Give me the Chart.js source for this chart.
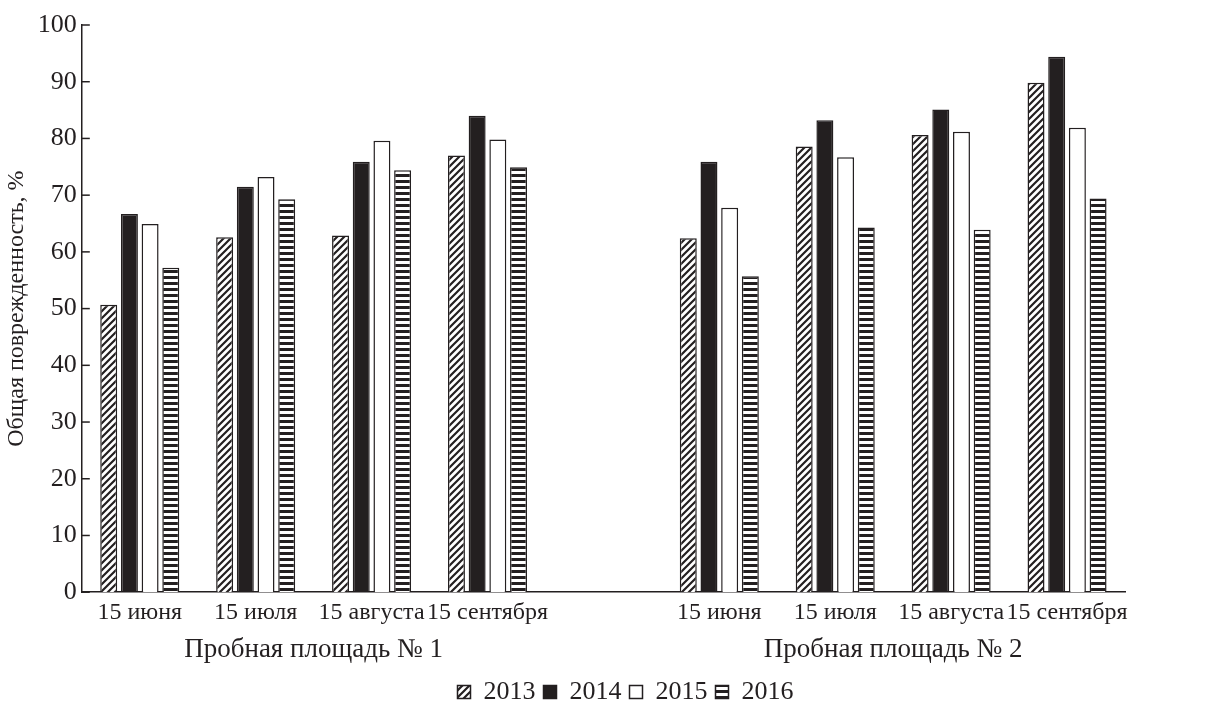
<!DOCTYPE html>
<html>
<head>
<meta charset="utf-8">
<script src="https://cdn.jsdelivr.net/npm/chart.js@4.4.0/dist/chart.umd.min.js"></script>
<style>
  body { margin: 0; background: #fff; }
  #wrap { width: 1206px; height: 701px; }
</style>
</head>
<body>
<div id="wrap"><canvas id="graph_povr"></canvas></div>
<script>
// ---------- datos ----------
const categorias = ['15 июня', '15 июля', '15 августа', '15 сентября', '', '15 июня', '15 июля', '15 августа', '15 сентября'];
const grupos = ['Пробная площадь № 1', 'Пробная площадь № 2'];
const anos = ['2013', '2014', '2015', '2016'];
const v2013 = [50.7, 62.6, 62.9, 77.0, null, 62.4, 78.6, 80.6, 89.8];
const v2014 = [66.7, 71.5, 75.9, 84.0, null, 75.9, 83.2, 85.1, 94.4];
const v2015 = [64.9, 73.2, 79.6, 79.8, null, 67.8, 76.7, 81.2, 81.9];
const v2016 = [57.2, 69.3, 74.4, 74.9, null, 55.7, 64.3, 63.9, 69.4];
const yTicks = [0, 10, 20, 30, 40, 50, 60, 70, 80, 90, 100];

const negro = '#231f20';
const fuente = "'Liberation Serif', 'DejaVu Serif', serif";

// ---------- patrones ----------
function patronDiagonal() {
    const c = document.createElement('canvas');
    c.width = 7; c.height = 7;
    const g = c.getContext('2d');
    g.fillStyle = '#fff';
    g.fillRect(0, 0, 7, 7);
    g.strokeStyle = negro;
    g.lineWidth = 2.2;
    g.beginPath();
    g.moveTo(-1, 8); g.lineTo(8, -1);
    g.moveTo(-4, 4); g.lineTo(4, -4);
    g.moveTo(3, 11); g.lineTo(11, 3);
    g.stroke();
    return g.createPattern(c, 'repeat');
}
function patronHorizontal() {
    const c = document.createElement('canvas');
    c.width = 6; c.height = 6;
    const g = c.getContext('2d');
    g.fillStyle = '#fff';
    g.fillRect(0, 0, 6, 6);
    g.fillStyle = negro;
    g.fillRect(0, 0, 6, 3);
    return g.createPattern(c, 'repeat');
}

const rellenos = [patronDiagonal(), negro, '#ffffff', patronHorizontal()];
const valores = [v2013, v2014, v2015, v2016];

const datasets = anos.map((a, i) => ({
    label: a,
    data: valores[i],
    backgroundColor: rellenos[i],
    borderColor: negro,
    borderWidth: 1.5,
    barPercentage: 0.82,
    categoryPercentage: 0.714
}));

// ticks hacia dentro en el eje Y
const ticksDentro = {
    id: 'ticksDentro',
    afterDraw(chart) {
        const y = chart.scales.y;
        const ctx = chart.ctx;
        ctx.save();
        ctx.strokeStyle = negro;
        ctx.lineWidth = 1.5;
        yTicks.forEach(t => {
            const py = y.getPixelForValue(t);
            ctx.beginPath();
            ctx.moveTo(chart.chartArea.left, py);
            ctx.lineTo(chart.chartArea.left + 8, py);
            ctx.stroke();
        });
        ctx.restore();
    }
};

// nombres de los grupos debajo de las fechas
const etiquetasGrupo = {
    id: 'etiquetasGrupo',
    afterDraw(chart) {
        const x = chart.scales.x;
        const ctx = chart.ctx;
        ctx.save();
        ctx.font = '27px ' + fuente;
        ctx.fillStyle = negro;
        ctx.textAlign = 'center';
        ctx.textBaseline = 'middle';
        const c1 = (x.getPixelForValue(0) + x.getPixelForValue(3)) / 2;
        const c2 = (x.getPixelForValue(5) + x.getPixelForValue(8)) / 2;
        ctx.fillText(grupos[0], c1, x.top + 58);
        ctx.fillText(grupos[1], c2, x.top + 58);
        ctx.restore();
    }
};

// leyenda un poco a la derecha y abajo, como en el original
const moverLeyenda = {
    id: 'moverLeyenda',
    afterLayout(chart) {
        chart.legend.left += 62;
        chart.legend.right += 62;
        chart.legend.top += 14;
        chart.legend.bottom += 14;
    }
};

const config = {
    type: 'bar',
    data: { labels: categorias, datasets: datasets },
    options: {
        responsive: true,
        maintainAspectRatio: false,
        animation: false,
        layout: { padding: { left: 2, right: 81, top: 25, bottom: 0 } },
        scales: {
            x: {
                grid: { display: false, drawTicks: false },
                border: { color: negro, width: 1.5 },
                ticks: { color: negro, font: { family: fuente, size: 24 }, padding: 6, maxRotation: 0, autoSkip: false },
                afterFit: (s) => { s.height += 24; }
            },
            y: {
                min: 0,
                max: 100,
                afterBuildTicks: (s) => { s.ticks = yTicks.map(v => ({ value: v })); },
                grid: { display: false, drawTicks: false },
                border: { color: negro, width: 1.5 },
                ticks: { color: negro, font: { family: fuente, size: 26 }, padding: 5 },
                title: { display: true, text: 'Общая поврежденность, %', color: negro, font: { family: fuente, size: 24 }, padding: { top: 0, bottom: 2 } }
            }
        },
        plugins: {
            legend: {
                position: 'bottom',
                labels: { color: negro, font: { family: fuente, size: 26 }, boxWidth: 13, boxHeight: 13, padding: 8 }
            },
            tooltip: { enabled: false }
        }
    },
    plugins: [ticksDentro, etiquetasGrupo, moverLeyenda]
};

const chart_povr = new Chart(document.getElementById('graph_povr'), config);
</script>
</body>
</html>
